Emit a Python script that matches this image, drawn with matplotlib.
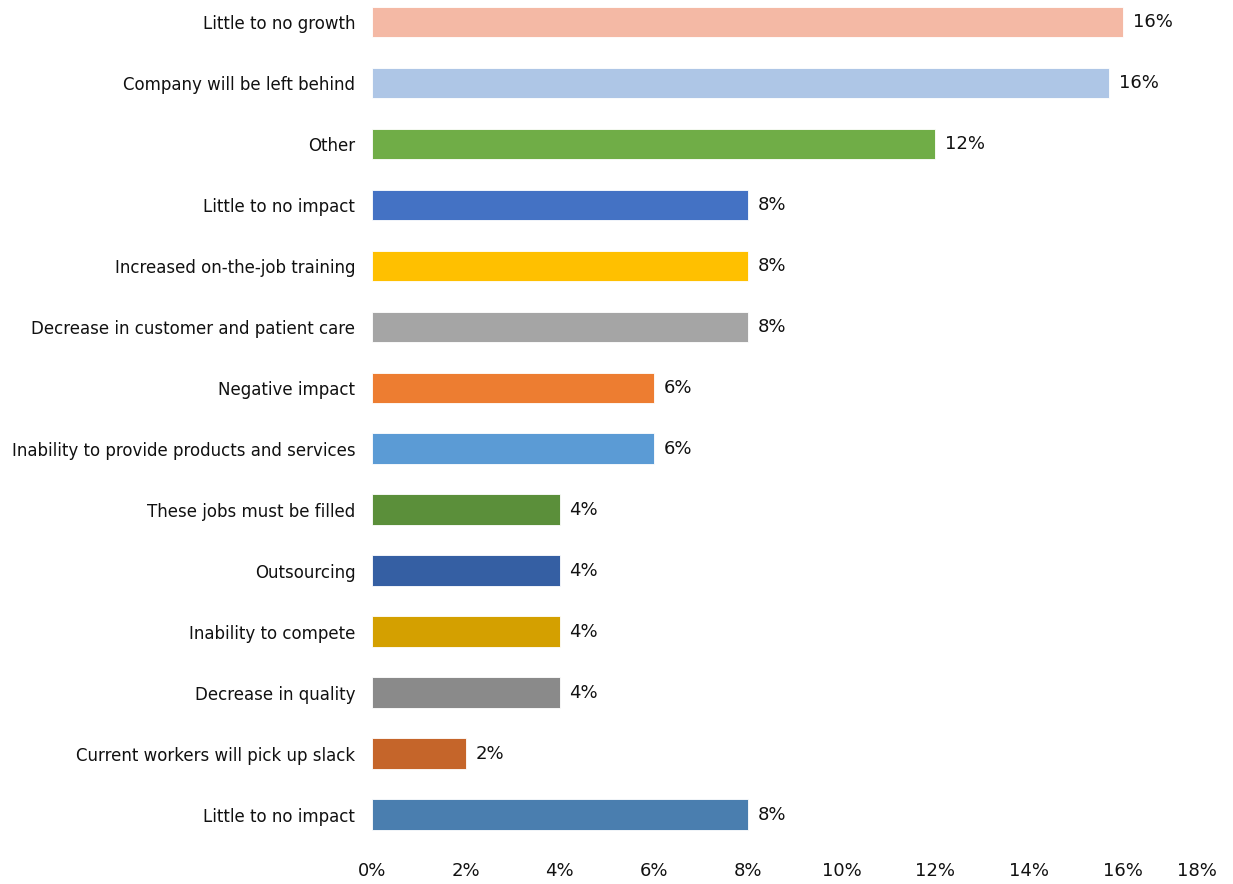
import matplotlib
matplotlib.use('Agg')
import matplotlib.pyplot as plt
from matplotlib.ticker import FuncFormatter

categories = [
    'Little to no growth',
    'Company will be left behind',
    'Other',
    'Little to no impact',
    'Increased on-the-job training',
    'Decrease in customer and patient care',
    'Negative impact',
    'Inability to provide products and services',
    'These jobs must be filled',
    'Outsourcing',
    'Inability to compete',
    'Decrease in quality',
    'Current workers will pick up slack',
    'Little to no impact',
]
values = [16.0, 15.7, 12.0, 8.0, 8.0, 8.0, 6.0, 6.0, 4.0, 4.0, 4.0, 4.0, 2.0, 8.0]
colors = ['#F4B9A5', '#AEC6E6', '#70AD47', '#4472C4', '#FFC000', '#A5A5A5',
          '#ED7D31', '#5B9BD5', '#5B8F3A', '#355FA3', '#D4A000', '#8A8A8A',
          '#C5652A', '#4A7EAF']

fig = plt.figure(figsize=(12.33, 8.84), dpi=100)
ax = fig.add_axes([372 / 1233, 1 - 845 / 884, (1217 - 372) / 1233, 845 / 884])

pos = list(range(len(categories)))
ax.barh(pos, values, height=0.5, color=colors, edgecolor='white', linewidth=0.6)
for p, v in zip(pos, values):
    ax.annotate(f'{v:.0f}%', (v, p), xytext=(7, 0), textcoords='offset points',
                va='center', ha='left', fontsize=13, color='#111111')

ax.set_yticks(pos)
ax.set_yticklabels(categories, fontsize=12, color='#111111')
ax.set_ylim(13.5, -0.36)
ax.set_xlim(0, 18)
ax.set_xticks(range(0, 19, 2))
ax.xaxis.set_major_formatter(FuncFormatter(lambda x, _: f'{x:.0f}%'))
ax.tick_params(axis='x', length=0, pad=12, labelsize=13, labelcolor='#111111')
ax.tick_params(axis='y', length=0, pad=12)
for s in ax.spines.values():
    s.set_visible(False)

# last tick label squeezed inside the figure like the original
fig.canvas.draw()
ax.get_xticklabels()[-1].set_horizontalalignment('right')

fig.savefig('out.png', dpi=100)
